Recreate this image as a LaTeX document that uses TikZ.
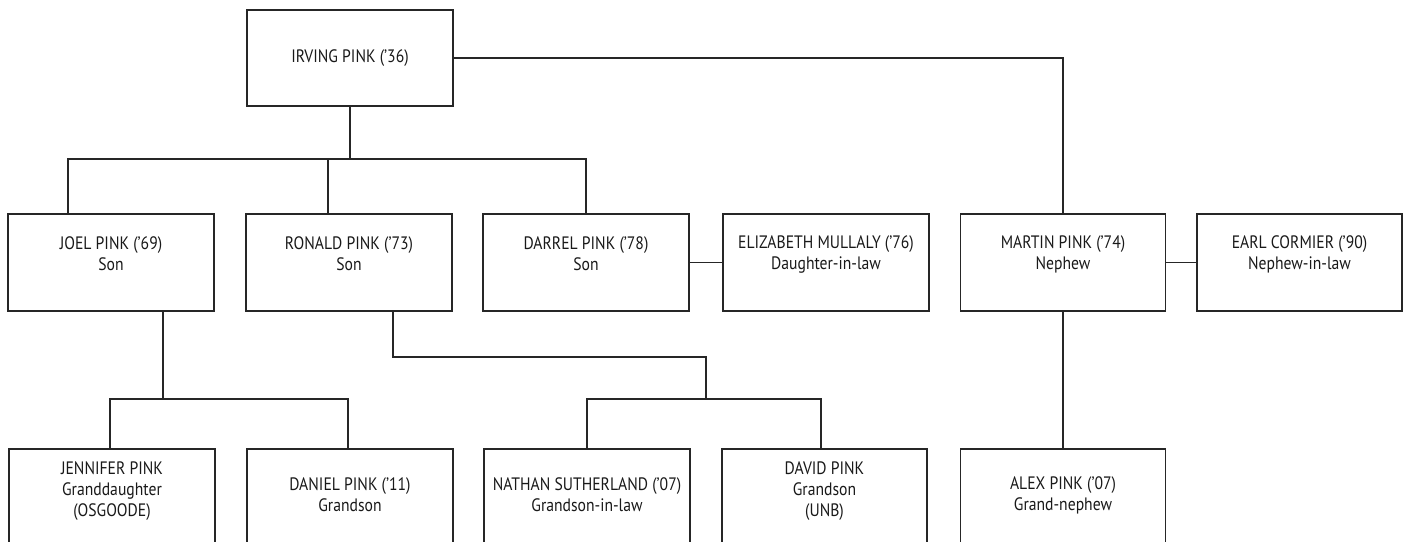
\documentclass[tikz,border=0pt]{standalone}
\usepackage{fontspec}
\setmainfont[FakeStretch=0.87]{PT Sans}
\begin{document}
\begin{tikzpicture}[x=1pt,y=-1pt,
  box/.style={draw=black!85,line width=1.2pt,minimum width=206pt,minimum height=97pt,inner sep=0pt},
  txt/.style={align=center,font=\fontsize{18}{21}\selectfont,text=black!90,inner sep=0pt},
  link/.style={draw=black!85,line width=1.2pt}]
\clip (0,0) rectangle (1406,541);
\useasboundingbox (0,0) rectangle (1406,541);
% row 1
\node[box,minimum height=96pt] (irving) at (350,58) {};
% row 2
\node[box] (joel)   at (111,262.5) {};
\node[box] (ronald) at (349,262.5) {};
\node[box] (darrel) at (586,262.5) {};
\node[box] (eliz)   at (826,262.5) {};
\node[box,minimum width=205pt] (martin) at (1063,262.5) {};
\node[box,minimum width=205pt] (earl)   at (1299.5,262.5) {};
% row 3
\node[box] (jennifer) at (112,497.5) {};
\node[box] (daniel)   at (350,497.5) {};
\node[box] (nathan)   at (587,497.5) {};
\node[box,minimum width=205pt] (david)    at (824.5,497.5) {};
\node[box,minimum width=205pt] (alex)     at (1063,497.5) {};
% texts
\node[txt] at (irving.center) {IRVING PINK (’36)};
\node[txt] at ([yshift=8.5pt]joel.center)   {JOEL PINK (’69)\\Son};
\node[txt] at ([yshift=8.5pt]ronald.center) {RONALD PINK (’73)\\Son};
\node[txt] at ([yshift=8.5pt]darrel.center) {DARREL PINK (’78)\\Son};
\node[txt] at ([yshift=8.5pt]eliz.center)   {ELIZABETH MULLALY (’76)\\Daughter-in-law};
\node[txt] at ([yshift=8.5pt]martin.center) {MARTIN PINK (’74)\\Nephew};
\node[txt] at ([yshift=8.5pt]earl.center)   {EARL CORMIER (’90)\\Nephew-in-law};
\node[txt] at ([yshift=6.5pt]jennifer.center) {JENNIFER PINK\\Granddaughter\\(OSGOODE)};
\node[txt] at ([yshift=2.5pt]daniel.center)   {DANIEL PINK (’11)\\Grandson};
\node[txt] at ([yshift=2.5pt]nathan.center)   {NATHAN SUTHERLAND (’07)\\Grandson-in-law};
\node[txt] at ([yshift=6.5pt]david.center)    {DAVID PINK\\Grandson\\(UNB)};
\node[txt] at ([yshift=2.5pt]alex.center)     {ALEX PINK (’07)\\Grand-nephew};
% junction coordinates
\coordinate (s1) at (350,159);
\coordinate (s1L) at (68,159);
\coordinate (s1M) at (328,159);
\coordinate (s1R) at (586,159);
\coordinate (m1) at (1063,58);
\coordinate (j0) at (163,311);
\coordinate (j1) at (163,399);
\coordinate (j1L) at (110,399);
\coordinate (j1R) at (348,399);
\coordinate (r0) at (393,311);
\coordinate (r1) at (393,357);
\coordinate (r2) at (706,357);
\coordinate (r3) at (706,399);
\coordinate (r3L) at (587,399);
\coordinate (r3R) at (821,399);
% connectors
\draw[link] (irving.south) -- (s1);
\draw[link] (s1L |- joel.north) -- (s1L) -- (s1R) -- (s1R |- darrel.north);
\draw[link] (s1M) -- (s1M |- ronald.north);
\draw[link] (irving.east |- m1) -- (m1) -- (m1 |- martin.north);
\draw[link] (darrel.east) -- (eliz.west);
\draw[link] (martin.east) -- (earl.west);
\draw[link] (j0) -- (j1);
\draw[link] (j1L |- jennifer.north) -- (j1L) -- (j1R) -- (j1R |- daniel.north);
\draw[link] (r0) -- (r1) -- (r2) -- (r3);
\draw[link] (r3L |- nathan.north) -- (r3L) -- (r3R) -- (r3R |- david.north);
\draw[link] (martin.south) -- (alex.north);
\end{tikzpicture}
\end{document}
